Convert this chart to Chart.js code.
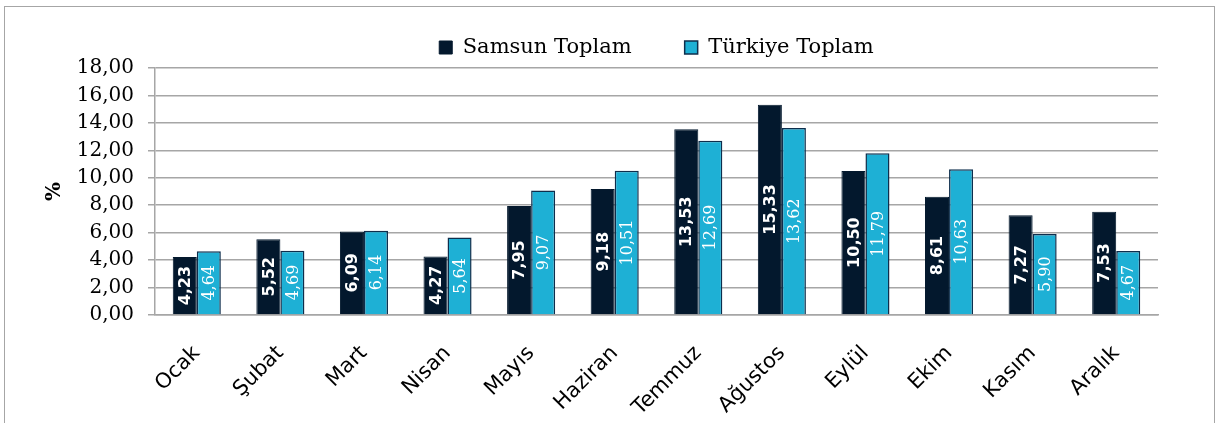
<!DOCTYPE html>
<html>
<head>
<meta charset="utf-8">
<script src="https://cdn.jsdelivr.net/npm/chart.js@4/dist/chart.umd.min.js"></script>
<style>
    body { margin: 0; background: #fff; }
    #wrap { position: relative; width: 1215px; height: 423px; }
    #frame { position: absolute; left: 4px; top: 6px; width: 1211px; height: 440px; box-sizing: border-box; border: 1px solid #a6a6a6; pointer-events: none; }
</style>
</head>
<body>
<div id="wrap">
    <canvas id="chart"></canvas>
    <div id="frame"></div>
</div>
<script>
// --- data ---
const months = ['Ocak', 'Şubat', 'Mart', 'Nisan', 'Mayıs', 'Haziran', 'Temmuz', 'Ağustos', 'Eylül', 'Ekim', 'Kasım', 'Aralık'];
const samsunToplam = [4.23, 5.52, 6.09, 4.27, 7.95, 9.18, 13.53, 15.33, 10.50, 8.61, 7.27, 7.53];
const turkiyeToplam = [4.64, 4.69, 6.14, 5.64, 9.07, 10.51, 12.69, 13.62, 11.79, 10.63, 5.90, 4.67];
const yTicks = [0, 2, 4, 6, 8, 10, 12, 14, 16, 18];

const fmt = (v) => v.toFixed(2).replace('.', ',');

// value labels written vertically inside each bar
const barLabels = {
    id: 'barLabels',
    afterDatasetsDraw(chart) {
        const ctx = chart.ctx;
        chart.data.datasets.forEach((ds, i) => {
            const meta = chart.getDatasetMeta(i);
            ctx.save();
            ctx.fillStyle = '#ffffff';
            ctx.font = i === 0 ? 'bold 16px "DejaVu Sans"' : '16px "DejaVu Serif"';
            ctx.textAlign = 'center';
            ctx.textBaseline = 'middle';
            meta.data.forEach((bar, j) => {
                const cy = (bar.y + bar.base) / 2;
                ctx.save();
                ctx.translate(bar.x, cy);
                ctx.rotate(-Math.PI / 2);
                ctx.fillText(fmt(ds.data[j]), 0, 1);
                ctx.restore();
            });
            ctx.restore();
        });
    }
};

new Chart(document.getElementById('chart').getContext('2d'), {
    type: 'bar',
    data: {
        labels: months,
        datasets: [
            { label: 'Samsun Toplam', data: samsunToplam, backgroundColor: '#03182d', borderColor: '#03182d', borderWidth: 1 },
            { label: 'Türkiye Toplam', data: turkiyeToplam, backgroundColor: '#1eb0d5', borderColor: '#0e2e4c', borderWidth: 1.5 }
        ]
    },
    options: {
        responsive: true,
        maintainAspectRatio: false,
        animation: false,
        layout: { padding: { left: 0, right: 57, top: -16, bottom: 0 } },
        datasets: { bar: { barPercentage: 1, categoryPercentage: 0.575 } },
        plugins: {
            legend: {
                position: 'top',
                fullSize: false,
                labels: { boxWidth: 13, boxHeight: 13, padding: 53, color: '#000', font: { family: '"DejaVu Serif"', size: 21 } }
            },
            tooltip: { enabled: false }
        },
        scales: {
            x: {
                grid: { display: false },
                border: { display: true, color: '#a6a6a6', width: 1.5 },
                ticks: { color: '#000', font: { family: '"DejaVu Sans"', size: 21 }, minRotation: 45, maxRotation: 45, padding: 18, autoSkip: false },
                afterFit: (s) => { s.height = 108; }
            },
            y: {
                min: 0,
                max: 18,
                afterBuildTicks: (s) => { s.ticks = yTicks.map(v => ({ value: v })); },
                grid: { color: '#a6a6a6', lineWidth: 1.5, tickLength: 7 },
                border: { display: true, color: '#a6a6a6', width: 1.5 },
                ticks: { color: '#000', font: { family: '"DejaVu Serif"', size: 20 }, padding: 14, autoSkip: false, callback: (v) => fmt(v) },
                title: { display: true, text: '%', color: '#000', font: { family: '"DejaVu Serif"', size: 20, weight: 'bold' }, padding: { top: 43, bottom: 0 } },
                afterFit: (s) => { s.width = 155; }
            }
        }
    },
    plugins: [barLabels]
});
</script>
</body>
</html>
